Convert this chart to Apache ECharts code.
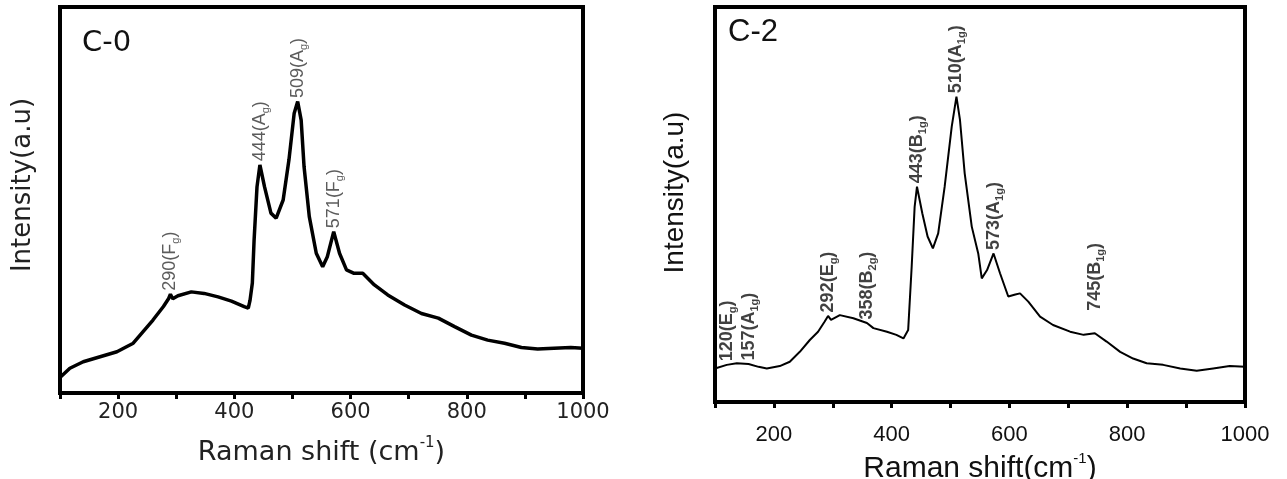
<!DOCTYPE html>
<html>
<head>
<meta charset="utf-8">
<script src="https://cdn.jsdelivr.net/npm/echarts@6/dist/echarts.min.js"></script>
<style>
  html, body { margin: 0; padding: 0; background: #fff; }
  #chart { width: 1287px; height: 479px; }
</style>
</head>
<body>
<div id="chart"></div>
<script>
// Raman spectra of samples C-0 and C-2: [wavenumber (cm-1), relative intensity]
const c0Spectrum = [
  [100, 4.0], [103, 4.2], [117, 6.4], [140, 8.1], [169, 9.4], [198, 10.7], [226, 12.9],
  [243, 15.9], [260, 18.9], [278, 22.4], [287, 24.5], [290, 25.6], [294, 24.4], [303, 25.2],
  [326, 26.2], [348, 25.8], [372, 24.9], [395, 23.8], [417, 22.4], [424, 22.0], [427, 24.0],
  [431, 28.5], [434, 39.6], [439, 53.4], [444, 59.1], [452, 53.4], [463, 46.6], [472, 45.3],
  [484, 50.0], [494, 60.4], [503, 72.5], [509, 75.5], [515, 70.7], [520, 58.6], [529, 45.7],
  [541, 36.2], [552, 32.7], [560, 35.3], [571, 41.8], [581, 36.2], [593, 31.9], [606, 31.0],
  [621, 31.0], [641, 28.0], [664, 25.4], [693, 22.8], [722, 20.6], [751, 19.4], [779, 17.2],
  [808, 15.0], [836, 13.7], [865, 12.9], [894, 11.8], [922, 11.4], [950, 11.6], [979, 11.8],
  [1000, 11.6]
];
const c2Spectrum = [
  [100, 8.5], [120, 9.4], [137, 9.8], [157, 9.6], [174, 8.9], [188, 8.5], [210, 9.1],
  [227, 10.2], [244, 12.7], [261, 15.7], [275, 17.8], [286, 20.3], [292, 21.8], [297, 20.8],
  [312, 22.0], [335, 21.2], [358, 20.0], [369, 18.7], [392, 17.8], [408, 17.0], [420, 16.1],
  [428, 18.2], [434, 34.3], [439, 49.4], [443, 54.5], [452, 47.8], [461, 41.9], [470, 38.9],
  [479, 42.7], [490, 54.5], [502, 69.7], [510, 77.3], [516, 71.4], [524, 57.9], [536, 44.4],
  [547, 37.6], [553, 31.3], [562, 33.4], [573, 37.6], [584, 32.6], [598, 26.7], [610, 27.2],
  [618, 27.5], [632, 25.4], [652, 21.6], [674, 19.5], [703, 17.8], [726, 17.0], [745, 17.4],
  [765, 15.3], [788, 12.7], [810, 11.0], [833, 9.8], [861, 9.4], [890, 8.5], [918, 7.9],
  [946, 8.5], [974, 9.1], [1000, 8.9]
];

// Assigned Raman modes: peak position, symmetry letter, subscript
const c0Peaks = [290, 444, 509, 571];
const c0Modes = ['F', 'A', 'A', 'F'];
const c0Subs  = ['g', 'g', 'g', 'g'];

const c2Peaks = [120, 157, 292, 358, 443, 510, 573, 745];
const c2Modes = ['E', 'A', 'E', 'B', 'B', 'A', 'A', 'B'];
const c2Subs  = ['g', '1g', 'g', '2g', '1g', '1g', '1g', '1g'];

const xMin = 100, xMax = 1000, xStep = 100;

// intensity on the drawn polyline at a given wavenumber
function intensityAt(spec, x) {
  for (let i = 1; i < spec.length; i++) {
    const [x0, y0] = spec[i - 1], [x1, y1] = spec[i];
    if (x >= x0 && x <= x1) return y0 + (y1 - y0) * (x - x0) / (x1 - x0);
  }
  return spec[spec.length - 1][1];
}

function peakItems(spec, peaks, modes, subs, extraGap) {
  return peaks.map((p, i) => ({
    value: [p, intensityAt(spec, p)],
    label: {
      formatter: '{n|' + p + '(' + modes[i] + '}{s|' + subs[i] + '}{n|)}',
      distance: (extraGap[p] || 3)
    }
  }));
}

function xAxis(gridIndex, font, size, color, margin, name, nameSize, nameGap, supSize) {
  return {
    type: 'value', gridIndex: gridIndex, min: xMin, max: xMax, interval: xStep,
    axisLine: { show: true, onZero: false, lineStyle: { color: '#000', width: 4 } },
    axisTick: { show: true, inside: false, length: 6, lineStyle: { color: '#000', width: 3 } },
    splitLine: { show: false },
    axisLabel: {
      margin: margin, fontFamily: font, fontSize: size, color: color,
      formatter: v => (v % 200 === 0 ? String(v) : '')
    },
    name: name, nameLocation: 'middle', nameGap: nameGap,
    nameTextStyle: {
      fontFamily: font, fontSize: nameSize, color: color,
      rich: {
        t: { fontFamily: font, fontSize: nameSize, color: color, lineHeight: nameSize + 6 },
        sup: { fontFamily: font, fontSize: supSize, color: color, verticalAlign: 'top', lineHeight: supSize + 2 }
      }
    }
  };
}

function yAxis(gridIndex, font, size, color, gap, lift) {
  return {
    type: 'value', gridIndex: gridIndex, min: 0, max: 100,
    axisLine: { show: false }, axisTick: { show: false }, axisLabel: { show: false },
    splitLine: { show: false },
    name: 'Intensity(a.u)', nameLocation: 'middle', nameGap: gap,
    nameTextStyle: { fontFamily: font, fontSize: size, color: color, padding: [0, 0, 0, lift] }
  };
}

function labelSeries(axisIndex, items, font, size, subSize, weight, color) {
  return {
    type: 'scatter', xAxisIndex: axisIndex, yAxisIndex: axisIndex,
    symbolSize: 1, itemStyle: { color: 'rgba(0,0,0,0)' }, silent: true, z: 5,
    label: {
      show: true, position: 'top', rotate: 90, align: 'left', verticalAlign: 'middle',
      rich: {
        n: { fontFamily: font, fontSize: size, fontWeight: weight, color: color, lineHeight: size + 5 },
        s: { fontFamily: font, fontSize: subSize, fontWeight: weight, color: color,
             verticalAlign: 'bottom', lineHeight: subSize }
      }
    },
    data: items
  };
}

const chart = echarts.init(document.getElementById('chart'), null, { renderer: 'canvas' });

chart.setOption({
  backgroundColor: '#fff',
  animation: false,
  title: [
    { text: 'C-0', left: 82, top: 29, padding: 0,
      textStyle: { fontFamily: 'DejaVu Sans', fontSize: 29, fontWeight: 'normal', color: '#111' } },
    { text: 'C-2', left: 728, top: 17, padding: 0,
      textStyle: { fontFamily: 'Liberation Sans', fontSize: 31, fontWeight: 'normal', color: '#111' } }
  ],
  grid: [
    { left: 60, top: 7, width: 523, height: 386, show: true, borderColor: '#000', borderWidth: 4,
      containLabel: false, outerBoundsMode: 'none' },
    { left: 715, top: 7, width: 530, height: 395, show: true, borderColor: '#000', borderWidth: 4,
      containLabel: false, outerBoundsMode: 'none' }
  ],
  xAxis: [
    xAxis(0, 'DejaVu Sans', 21, '#222', 9, '{t|Raman shift (cm}{sup|-1}{t|)}', 27, 43, 15),
    xAxis(1, 'Liberation Sans', 22, '#111', 22, '{t|Raman shift(cm}{sup|-1}{t|)}', 30, 35, 15)
  ],
  yAxis: [
    yAxis(0, 'DejaVu Sans', 26, '#222', 24, 30),
    yAxis(1, 'Liberation Sans', 28, '#111', 26, 24)
  ],
  series: [
    { type: 'line', xAxisIndex: 0, yAxisIndex: 0, data: c0Spectrum, showSymbol: false,
      lineStyle: { color: '#000', width: 3.5 }, silent: true },
    { type: 'line', xAxisIndex: 1, yAxisIndex: 1, data: c2Spectrum, showSymbol: false,
      lineStyle: { color: '#000', width: 2 }, silent: true },
    labelSeries(0, peakItems(c0Spectrum, c0Peaks, c0Modes, c0Subs, {}),
      'Liberation Sans', 18, 11, 'normal', '#333'),
    labelSeries(1, peakItems(c2Spectrum, c2Peaks, c2Modes, c2Subs, { 745: 22 }),
      'Liberation Sans', 18, 11, 'bold', '#111')
  ]
});
</script>
</body>
</html>
